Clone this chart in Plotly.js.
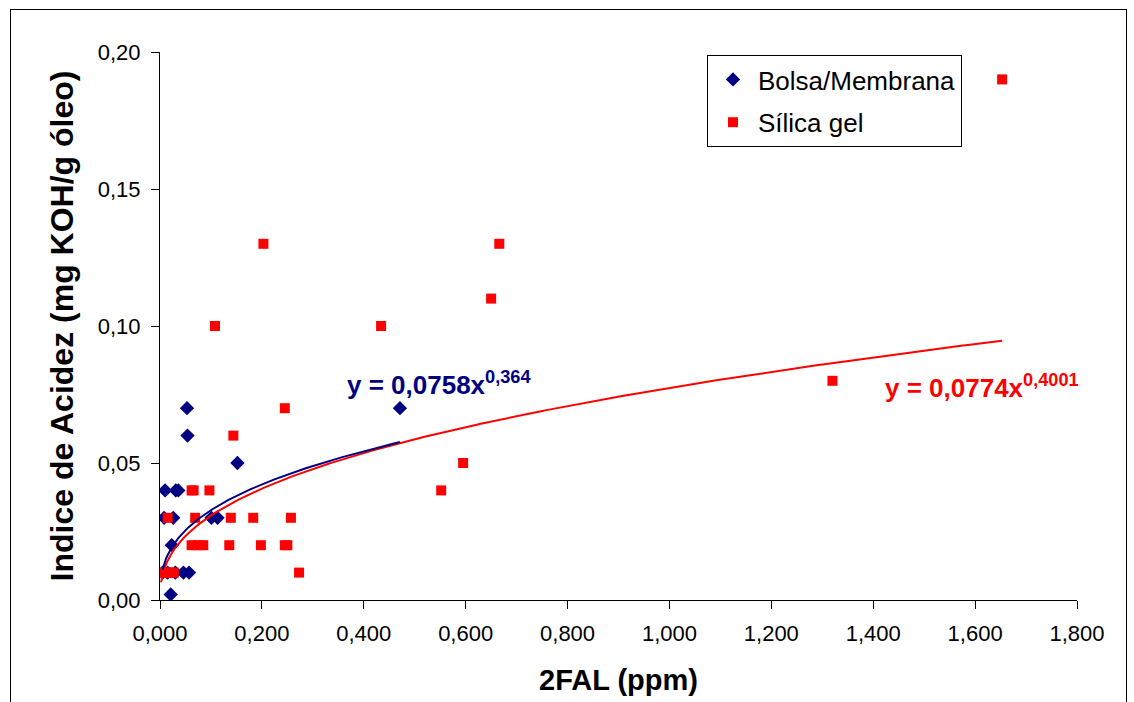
<!DOCTYPE html>
<html><head><meta charset="utf-8">
<script src="https://cdn.plot.ly/plotly-3.0.1.min.js"></script>
<style>
body{margin:0;background:#fff;}
#frame{position:absolute;left:10px;top:9px;width:1115px;height:720px;border:1px solid #000;}
#chart{position:absolute;left:0;top:0;width:1134px;height:702px;}
</style></head>
<body><div id="frame"></div><div id="chart"></div>
<script>
// Bolsa/Membrana data
const bolsaX = [0.005,0.008,0.010,0.015,0.021,0.023,0.026,0.030,0.031,0.036,0.046,0.053,0.054,0.057,0.101,0.113,0.152,0.471];
const bolsaY = [0.010,0.030,0.040,0.010,0.002,0.020,0.030,0.010,0.040,0.040,0.010,0.070,0.060,0.010,0.030,0.030,0.050,0.070];
// Sílica gel data
const silicaX = [0.002,0.007,0.012,0.017,0.022,0.027,0.015,0.062,0.066,0.097,0.069,0.139,0.183,0.257,0.062,0.075,0.085,0.136,0.198,0.245,0.250,0.273,0.144,0.245,0.108,0.203,0.434,0.650,0.666,0.552,0.595,1.320,1.653];
const silicaY = [0.010,0.010,0.010,0.010,0.010,0.010,0.030,0.040,0.040,0.040,0.030,0.030,0.030,0.030,0.020,0.020,0.020,0.020,0.020,0.020,0.020,0.010,0.060,0.070,0.100,0.130,0.100,0.110,0.130,0.040,0.050,0.080,0.190];
// Power trendlines (from chart equations)
const bolsaFit = {a:0.0758, b:0.364, label:'y = 0,0758x<sup>0,364</sup>'};
const silicaFit = {a:0.0774, b:0.4001, label:'y = 0,0774x<sup>0,4001</sup>'};

function trend(xs, fit){
  const lo = Math.min(...xs), hi = Math.max(...xs);
  const X=[],Y=[]; const n=300;
  for(let i=0;i<=n;i++){const x=lo+(hi-lo)*i/n; X.push(x); Y.push(fit.a*Math.pow(x,fit.b));}
  return {X,Y};
}
const tb = trend(bolsaX,bolsaFit), ts = trend(silicaX,silicaFit);
const navy='#000080', red='#FF0000';
const traces = [
 {x:bolsaX,y:bolsaY,type:'scatter',mode:'markers',name:'Bolsa/Membrana',legendgroup:'a',marker:{symbol:'diamond',size:11,color:navy}},
 {x:silicaX,y:silicaY,type:'scatter',mode:'markers',name:'Sílica gel',legendgroup:'b',marker:{symbol:'square',size:10,color:red}},
 {x:ts.X,y:ts.Y,type:'scatter',mode:'lines',line:{color:red,width:2},showlegend:false,hoverinfo:'skip'},
 {x:tb.X,y:tb.Y,type:'scatter',mode:'lines',line:{color:navy,width:2},showlegend:false,hoverinfo:'skip'}
];
const font = {family:'"Liberation Sans", Arial, sans-serif', color:'#000'};
const layout = {
 width:1134,height:702,
 paper_bgcolor:'rgba(0,0,0,0)',plot_bgcolor:'rgba(0,0,0,0)',
 margin:{l:160,r:57,t:52,b:102},
 separators:',.',
 font:Object.assign({size:22},font),
 showlegend:true,
 legend:{x:0.5965,y:0.9945,xanchor:'left',yanchor:'top',bgcolor:'#fff',bordercolor:'#000',borderwidth:1,
   font:Object.assign({size:26},font),tracegroupgap:6,itemwidth:40},
 xaxis:{range:[0,1.8],dtick:0.2,tick0:0,tickformat:'.3f',showgrid:false,zeroline:false,showline:true,linecolor:'#000',linewidth:1,
   ticks:'outside',ticklen:8,tickcolor:'#000',tickfont:Object.assign({size:22},font),ticklabelstandoff:6,
   title:{text:'<b>2FAL (ppm)</b>',font:Object.assign({size:29},font),standoff:24}},
 yaxis:{range:[0,0.2],dtick:0.05,tick0:0,tickformat:'.2f',showgrid:false,zeroline:false,showline:true,linecolor:'#000',linewidth:1,
   ticks:'outside',ticklen:8,tickcolor:'#000',tickfont:Object.assign({size:22},font),ticklabelstandoff:6,
   title:{text:'<b>Indice de Acidez (mg KOH/g óleo)</b>',font:Object.assign({size:32},font),standoff:14}},
 annotations:[
  {x:0.363,y:0.079,xref:'x',yref:'y',text:'<b>'+bolsaFit.label+'</b>',showarrow:false,xanchor:'left',font:Object.assign({},font,{size:26,color:navy})},
  {x:1.419,y:0.078,xref:'x',yref:'y',text:'<b>'+silicaFit.label+'</b>',showarrow:false,xanchor:'left',font:Object.assign({},font,{size:26,color:red})}
 ]
};
Plotly.newPlot('chart',traces,layout,{displayModeBar:false,staticPlot:true});
</script></body></html>
